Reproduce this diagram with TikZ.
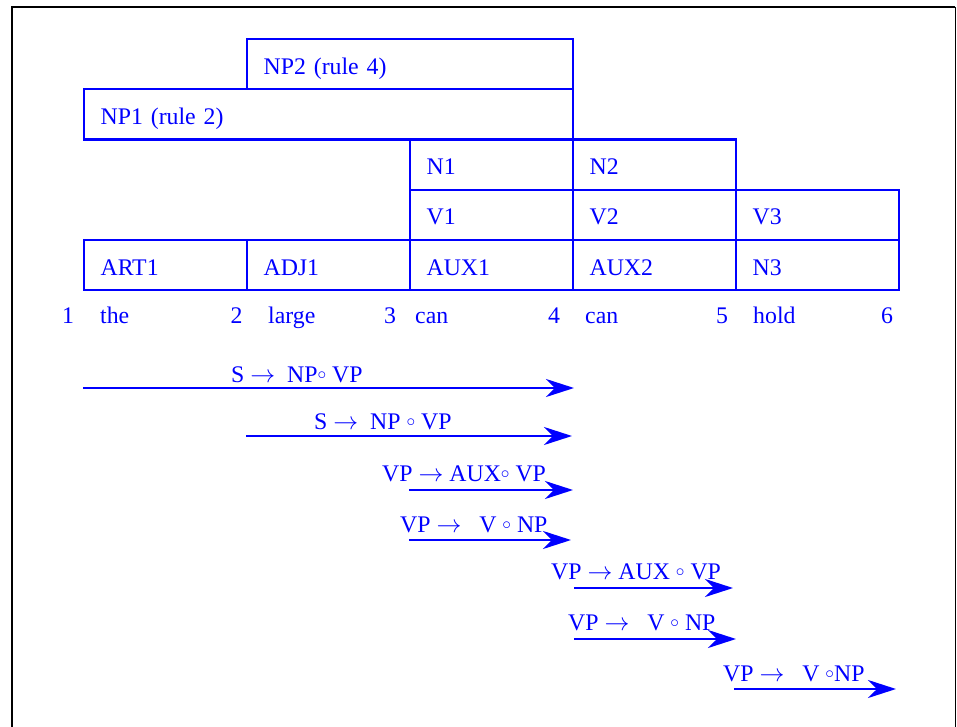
\documentclass[tikz,border=0pt]{standalone}
\usepackage{fontspec}
\setmainfont{Liberation Serif}
\usetikzlibrary{arrows.meta}
\newcommand{\ra}{\ensuremath{\rightarrow}}
\newcommand{\dt}{\raisebox{2.5pt}{\ensuremath{\scriptstyle\circ}}}

\begin{document}
\begin{tikzpicture}[x=1pt,y=-1pt,
  every node/.style={text=blue,font=\fontsize{23.8}{28}\selectfont},
  cell/.style={draw=blue,line width=2.2pt,anchor=north west,inner xsep=16.5pt,
    inner ysep=0pt,text height=20pt,text depth=0pt,minimum height=50.2pt,
    text width=#1,align=left},
  cell/.default=130pt,
  word/.style={anchor=base west,inner sep=0pt},
  num/.style={anchor=base,inner sep=0pt},
  edge/.style={draw=blue,line width=2.6pt,-{Stealth[length=28pt,width=18pt,inset=9pt]}},
  rulelabel/.style={anchor=base west,inner sep=0pt}]

\useasboundingbox (0,0) rectangle (957,727);

% frame
\draw[line width=1.8pt] (12,727) -- (12,7) -- (955,7);
\draw[line width=1pt] (955,7) -- (955,727);

% chart
\node[cell=293pt] (np2) at (246,38) {NP2 (rule 4)};
\node[cell=456pt] (np1) at (83,88.2) {NP1 (rule 2)};

\node[cell] (n1) at (409,138.4) {N1};
\node[cell] (n2) at (572,138.4) {N2};

\node[cell] (v1) at (409,188.6) {V1};
\node[cell] (v2) at (572,188.6) {V2};
\node[cell] (v3) at (735,188.6) {V3};

\node[cell] (art1) at (83,238.8) {ART1};
\node[cell] (adj1) at (246,238.8) {ADJ1};
\node[cell] (aux1) at (409,238.8) {AUX1};
\node[cell] (aux2) at (572,238.8) {AUX2};
\node[cell] (n3) at (735,238.8) {N3};

% words
\node[num] (p1) at (68,323) {1};
\node[num] (p2) at (236.5,323) {2};
\node[num] (p3) at (390,323) {3};
\node[num] (p4) at (554,323) {4};
\node[num] (p5) at (722,323) {5};
\node[num] (p6) at (887,323) {6};

\node[word] (w1) at (100,323) {the};
\node[word] (w2) at (268,323) {large};
\node[word] (w3) at (415,323) {can};
\node[word] (w4) at (585,323) {can};
\node[word] (w5) at (753,323) {hold};

% active arcs
\coordinate (a1) at (83,388);
\coordinate (b1) at (574,388);
\draw[edge] (a1) -- (b1);
\node[rulelabel] (l1) at (231,382) {S \ra\ \ NP\dt\ VP};

\coordinate (a2) at (246,436);
\coordinate (b2) at (572,436);
\draw[edge] (a2) -- (b2);
\node[rulelabel] (l2) at (314,429) {S \ra\ \ NP \dt\ VP};

\coordinate (a3) at (409,490);
\coordinate (b3) at (573,490);
\draw[edge] (a3) -- (b3);
\node[rulelabel] (l3) at (382,481) {VP \ra\ AUX\dt\ VP};

\coordinate (a4) at (409,540);
\coordinate (b4) at (571,540);
\draw[edge] (a4) -- (b4);
\node[rulelabel] (l4) at (400,532) {VP \ra\ \ \ V \dt\ NP};

\coordinate (a5) at (574,588);
\coordinate (b5) at (733,588);
\draw[edge] (a5) -- (b5);
\node[rulelabel] (l5) at (551,579) {VP \ra\ AUX \dt\ VP};

\coordinate (a6) at (574,639);
\coordinate (b6) at (736,639);
\draw[edge] (a6) -- (b6);
\node[rulelabel] (l6) at (568,630) {VP \ra\ \ \ V \dt\ NP};

\coordinate (a7) at (734,689);
\coordinate (b7) at (896,689);
\draw[edge] (a7) -- (b7);
\node[rulelabel] (l7) at (723,681) {VP \ra\ \ \ V \dt NP};

\end{tikzpicture}
\end{document}
